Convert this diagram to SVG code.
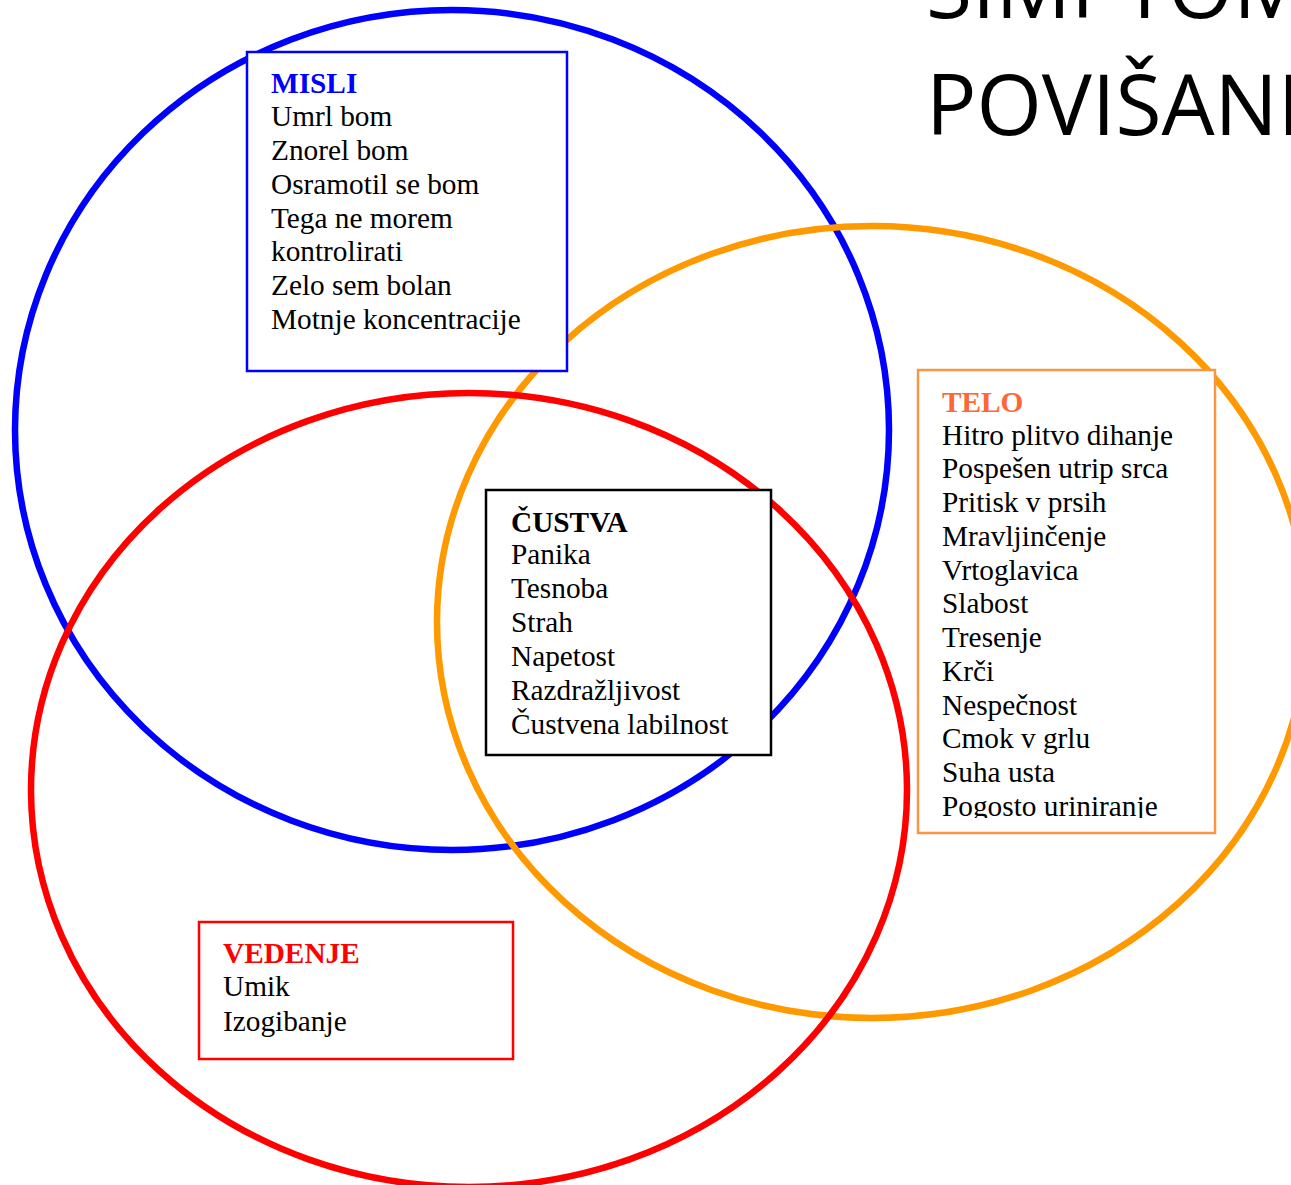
<svg xmlns="http://www.w3.org/2000/svg" width="1291" height="1185" viewBox="0 0 1291 1185">
<style>
.ring{fill:none;stroke-width:6.5}
.box{fill:#fff;stroke-width:2.5}
.t{font-family:"Liberation Serif","Times New Roman",serif;font-size:29.3px;fill:#000}
.h{font-weight:bold}
.title{font-family:"Open Sans","Noto Sans",sans-serif;font-size:84px;fill:#000}
</style>
<defs>
<clipPath id="teloClip"><rect x="918" y="370" width="297" height="448"/></clipPath>
</defs>
<rect width="1291" height="1185" fill="#fff"/>
<g id="title">
<text class="title" x="926" y="18">SIMPTOMI</text>
<text class="title" x="926" y="135">POVIŠANE</text>
</g>
<g id="connectors">
<ellipse id="ring-misli" class="ring" cx="452" cy="430" rx="437" ry="420" stroke="#0000ff"/>
<ellipse id="ring-telo" class="ring" cx="872" cy="622" rx="435" ry="396" stroke="#ff9900"/>
<ellipse id="ring-vedenje" class="ring" cx="469" cy="790" rx="438" ry="397" stroke="#ff0000"/>
</g>
<g id="misli">
<rect class="box" x="247" y="52" width="320" height="319" stroke="#0000ff"/>
<text class="t" x="271"><tspan class="h" fill="#0000ff" x="271" y="93">MISLI</tspan><tspan x="271" y="126">Umrl bom</tspan><tspan x="271" y="160">Znorel bom</tspan><tspan x="271" y="194">Osramotil se bom</tspan><tspan x="271" y="228">Tega ne morem</tspan><tspan x="271" y="261">kontrolirati</tspan><tspan x="271" y="295">Zelo sem bolan</tspan><tspan x="271" y="329">Motnje koncentracije</tspan></text>
</g>
<g id="custva">
<rect class="box" x="486" y="490" width="285" height="265" stroke="#000"/>
<text class="t" x="511"><tspan class="h" x="511" y="532">ČUSTVA</tspan><tspan x="511" y="564">Panika</tspan><tspan x="511" y="598">Tesnoba</tspan><tspan x="511" y="632">Strah</tspan><tspan x="511" y="666">Napetost</tspan><tspan x="511" y="700">Razdražljivost</tspan><tspan x="511" y="734">Čustvena labilnost</tspan></text>
</g>
<g id="telo">
<rect class="box" x="918" y="370" width="297" height="463" stroke="#f79646"/>
<text class="t" x="942" clip-path="url(#teloClip)"><tspan class="h" fill="#ff6633" x="942" y="412">TELO</tspan><tspan x="942" y="445">Hitro plitvo dihanje</tspan><tspan x="942" y="478">Pospešen utrip srca</tspan><tspan x="942" y="512">Pritisk v prsih</tspan><tspan x="942" y="546">Mravljinčenje</tspan><tspan x="942" y="580">Vrtoglavica</tspan><tspan x="942" y="613">Slabost</tspan><tspan x="942" y="647">Tresenje</tspan><tspan x="942" y="681">Krči</tspan><tspan x="942" y="715">Nespečnost</tspan><tspan x="942" y="748">Cmok v grlu</tspan><tspan x="942" y="782">Suha usta</tspan><tspan x="942" y="816">Pogosto uriniranje</tspan></text>
</g>
<g id="vedenje">
<rect class="box" x="199" y="922" width="314" height="137" stroke="#ff0000"/>
<text class="t" x="223"><tspan class="h" fill="#ff0000" x="223" y="963">VEDENJE</tspan><tspan x="223" y="996">Umik</tspan><tspan x="223" y="1031">Izogibanje</tspan></text>
</g>
</svg>
